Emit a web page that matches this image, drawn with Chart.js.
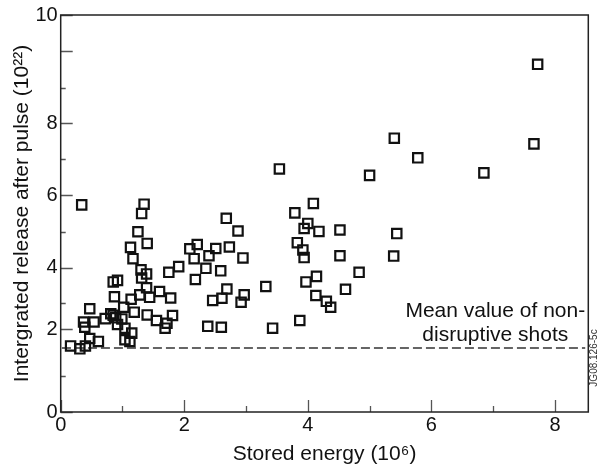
<!DOCTYPE html>
<html><head><meta charset="utf-8">
<script src="https://cdn.jsdelivr.net/npm/chart.js@4/dist/chart.umd.min.js"></script>
<style>html,body{margin:0;padding:0;background:#fff}</style>
</head><body>
<canvas id="c" width="598" height="471"></canvas>
<script>
// ---- data ----
const storedEnergy = [
  0.34,1.35,1.31,1.25,1.40,1.13,1.17,1.91,1.75,1.30,1.39,1.31,0.85,0.92,1.39,1.60,1.44,1.78,0.87,1.14,
  1.28,1.02,0.47,1.19,1.40,0.81,0.89,0.72,0.54,0.39,0.37,0.92,1.04,1.55,1.72,1.81,1.69,1.15,1.04,1.12,
  0.61,0.47,0.16,0.31,0.40,0.85,0.99,
  4.09,3.79,2.68,4.00,3.94,4.18,4.52,2.87,2.09,2.21,2.51,2.73,2.40,2.16,2.95,3.83,3.92,3.94,4.52,
  2.35,2.59,2.18,4.83,4.14,3.97,3.32,4.61,2.69,2.97,2.61,2.46,2.92,4.13,4.30,4.37,2.38,2.60,3.43,3.87,
  3.54,5.00,5.40,5.78,6.85,7.66,7.72,5.44,5.39
];
const release = [
  5.73,5.75,5.49,4.99,4.67,4.56,4.25,4.03,3.85,3.93,3.80,3.67,3.54,3.59,3.35,3.23,3.04,3.02,3.06,2.98,
  3.12,2.72,2.67,2.56,2.47,2.51,2.38,2.35,2.24,2.07,2.24,2.16,2.04,2.29,2.20,2.45,2.04,1.91,1.75,1.71,
  1.71,1.78,1.60,1.53,1.60,2.46,2.34,
  5.77,5.51,5.36,5.22,5.08,5.00,5.04,5.01,4.52,4.64,4.53,4.57,4.33,4.25,4.27,4.69,4.49,4.28,4.33,
  3.98,3.90,3.62,3.85,3.72,3.54,3.39,3.30,3.31,3.12,3.01,2.94,2.88,3.10,2.91,2.72,2.10,2.07,2.04,2.29,
  6.73,6.55,7.59,7.04,6.62,7.43,9.09,4.94,4.32
];
const meanNonDisruptive = 1.55;
const meanLineRange = [0.02, 8.49];
const xTickValues = [0,1,2,3,4,5,6,7,8];
const xTickLabels = {0:'0',2:'2',4:'4',6:'6',8:'8'};
const yTickValues = [0,0.867,2,2.87,4,4.99,6,7,8,8.66,9.34,10];
const yTickLabels = {0:'0',2:'2',4:'4',6:'6',8:'8',10:'10'};
const yLongTicks = [0,2,4,6,8,9.34,10];
const xAxisTitle = 'Stored energy (10\u2076)';
const yAxisTitle = 'Intergrated release after pulse (10\u00B2\u00B2)';
const noteLines = ['Mean value of non-','disruptive shots'];
const figureId = 'JG08.126-5c';

// ---- the original axis is not evenly spaced: piecewise-linear y scale ----
const yKnotValues = [0,2,4,6,8,10];
const yKnotFractions = [0,0.208,0.3634,0.5464,0.7268,1];
function interp(v, xs, ys){
  if (v <= xs[0]) return ys[0] + (v - xs[0]) * (ys[1]-ys[0])/(xs[1]-xs[0]);
  for (let i=1;i<xs.length;i++){
    if (v <= xs[i]) return ys[i-1] + (v - xs[i-1])*(ys[i]-ys[i-1])/(xs[i]-xs[i-1]);
  }
  const n = xs.length-1;
  return ys[n] + (v - xs[n])*(ys[n]-ys[n-1])/(xs[n]-xs[n-1]);
}
class PiecewiseLinearScale extends Chart.LinearScale {
  getPixelForValue(value){
    if (value === null || value === undefined || isNaN(value)) return NaN;
    return this.getPixelForDecimal(interp(value, yKnotValues, yKnotFractions));
  }
  getValueForPixel(pixel){
    return interp(this.getDecimalForPixel(pixel), yKnotFractions, yKnotValues);
  }
}
PiecewiseLinearScale.id = 'piecewiseLinear';
PiecewiseLinearScale.defaults = Chart.LinearScale.defaults;
Chart.register(PiecewiseLinearScale);

const FONT = 'Liberation Sans, Arial, Helvetica, sans-serif';

const framePlugin = {
  id: 'frame',
  afterDatasetsDraw(chart){
    const {ctx, chartArea:a, scales:{x, y}} = chart;
    ctx.save();
    // inward tick marks
    ctx.strokeStyle = '#555';
    ctx.lineWidth = 1.3;
    ctx.beginPath();
    xTickValues.forEach(v => {
      const px = Math.round(x.getPixelForValue(v)) + 0.5;
      const len = (v % 2 === 0) ? 12 : 6;
      ctx.moveTo(px, a.bottom); ctx.lineTo(px, a.bottom - len);
    });
    yTickValues.forEach(v => {
      const py = Math.round(y.getPixelForValue(v)) + 0.5;
      const len = yLongTicks.includes(v) ? 12 : 5;
      ctx.moveTo(a.left, py); ctx.lineTo(a.left + len, py);
    });
    ctx.stroke();
    // frame
    ctx.strokeStyle = '#222';
    ctx.lineWidth = 1.5;
    ctx.strokeRect(a.left, a.top, a.right - a.left, a.bottom - a.top);
    // note text, placed relative to the mean line
    const yLine = y.getPixelForValue(meanNonDisruptive);
    ctx.fillStyle = '#111';
    ctx.font = '21px ' + FONT;
    ctx.textAlign = 'center';
    ctx.textBaseline = 'alphabetic';
    const cx = a.right - 93;
    ctx.fillText(noteLines[0], cx, yLine - 31);
    ctx.fillText(noteLines[1], cx, yLine - 7);
    // figure id
    ctx.translate(a.right + 6, 358);
    ctx.rotate(-Math.PI/2);
    ctx.font = '10px ' + FONT;
    ctx.fillStyle = '#333';
    ctx.textBaseline = 'middle';
    ctx.fillText(figureId, 0, 0);
    ctx.restore();
  }
};

new Chart(document.getElementById('c'), {
  type: 'scatter',
  data: {
    datasets: [
      {
        data: storedEnergy.map((v,i) => ({x:v, y:release[i]})),
        pointStyle: 'rect',
        pointRadius: 6.6,
        pointHoverRadius: 6.6,
        borderColor: '#111',
        backgroundColor: 'rgba(0,0,0,0)',
        borderWidth: 2.2,
        showLine: false
      },
      {
        data: meanLineRange.map(v => ({x:v, y:meanNonDisruptive})),
        showLine: true,
        pointRadius: 0,
        borderColor: '#333',
        borderWidth: 1.5,
        borderDash: [9,4],
        fill: false
      }
    ]
  },
  options: {
    responsive: false,
    animation: false,
    events: [],
    layout: {padding: {left: 0, top: 13, right: 9.7, bottom: 0}},
    plugins: {legend: {display: false}, tooltip: {enabled: false}},
    scales: {
      x: {
        type: 'linear',
        min: 0, max: 8.54,
        grid: {display: false, drawTicks: false},
        border: {display: false},
        afterBuildTicks: s => { s.ticks = xTickValues.map(v => ({value: v})); },
        afterFit: s => { s.height = 59; },
        ticks: {
          autoSkip: false, maxRotation: 0, padding: 1,
          color: '#111', font: {family: FONT, size: 20},
          callback: v => xTickLabels[v] ?? ''
        },
        title: {display: true, text: xAxisTitle, color: '#111',
                font: {family: FONT, size: 21}, padding: {top: 0, bottom: 4}}
      },
      y: {
        type: 'piecewiseLinear',
        min: 0, max: 10,
        grid: {display: false, drawTicks: false},
        border: {display: false},
        afterBuildTicks: s => { s.ticks = yTickValues.map(v => ({value: v})); },
        afterFit: s => { s.width = 60.7; },
        ticks: {
          autoSkip: false, padding: 3,
          color: '#111', font: {family: FONT, size: 20},
          callback: v => yTickLabels[v] ?? ''
        },
        title: {display: true, text: yAxisTitle, color: '#111',
                font: {family: FONT, size: 21}, padding: {top: 10, bottom: 0}}
      }
    }
  },
  plugins: [framePlugin]
});
</script>
</body></html>
